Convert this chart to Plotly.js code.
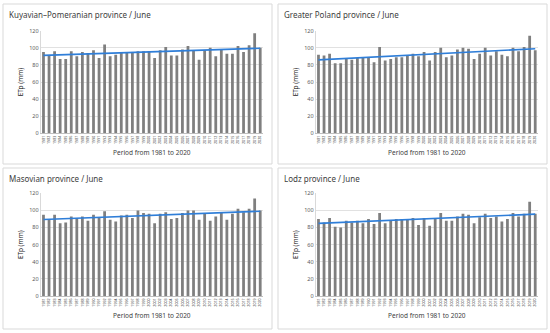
<!DOCTYPE html>
<html><head><meta charset="utf-8">
<script src="https://cdn.plot.ly/plotly-3.0.1.min.js"></script>
<style>html,body{margin:0;padding:0;background:#fff}#c{width:550px;height:333px}</style>
</head><body><div id="c"></div>
<script>
const years = [];
for (let y = 1981; y <= 2020; y++) years.push(String(y));

const titles = [
  "Kuyavian\u2013Pomeranian province / June",
  "Greater Poland province / June",
  "Masovian province / June",
  "Lodz province / June"
];
const kuyavian = [95,91,96,87,87,96,90,95,94,97,88,104,90,92,94,94,95,96,96,96,88,97,101,91,91,98,102,97,86,97,100,90,98,93,93,102,95,103,117,100];
const greaterPoland = [92,91,93,82,82,88,86,88,88,89,83,101,85,87,89,89,91,93,90,95,85,95,100,89,91,98,100,99,87,93,100,91,96,92,90,100,96,101,114,97];
const masovian = [95,89,95,85,86,93,90,93,88,95,91,99,89,87,94,95,91,100,97,96,85,96,98,90,91,97,100,100,89,96,88,93,97,89,96,102,98,102,114,100];
const lodz = [90,86,91,81,80,88,86,88,85,90,84,97,85,88,90,90,89,91,83,91,82,91,97,88,88,93,96,95,85,92,96,91,93,87,90,97,93,96,110,96];
const series = [kuyavian, greaterPoland, masovian, lodz];

const yTicks = [0,20,40,60,80,100,120];
const xTitle = "Period from 1981 to 2020";
const yTitle = "ETp (mm)";

function trend(v){
  const n=v.length; let sx=0,sy=0,sxy=0,sxx=0;
  for(let i=0;i<n;i++){sx+=i;sy+=v[i];sxy+=i*v[i];sxx+=i*i;}
  const b=(n*sxy-sx*sy)/(n*sxx-sx*sx), a=(sy-b*sx)/n;
  return v.map((_,i)=>a+b*i);
}

const W=550,H=333;
const xDom=[[40.7/W,263/W],[315.7/W,538/W]];
const yDom=[[1-133.3/H,1-30.7/H],[1-296/H,1-193.3/H]];
const boxes=[[3,4,272,164],[278,4,547,164],[3,168,272,329],[278,168,547,329]];

const data=[]; const layout={
  width:W,height:H,margin:{l:0,r:0,t:0,b:0},paper_bgcolor:"#fff",plot_bgcolor:"#fff",
  showlegend:false,bargap:0.5,font:{family:"Noto Sans, sans-serif",color:"#595959"},
  shapes:[],annotations:[]
};
series.forEach((vals,k)=>{
  const col=k%2,row=Math.floor(k/2);
  const ax=k===0?"":String(k+1);
  data.push({type:"bar",x:years,y:vals,marker:{color:"#7f7f7f"},xaxis:"x"+ax,yaxis:"y"+ax,hoverinfo:"x+y"});
  data.push({type:"scatter",mode:"lines",x:years,y:trend(vals),line:{color:"#2f7ed8",width:1.6},xaxis:"x"+ax,yaxis:"y"+ax});
  layout["xaxis"+ax]={domain:xDom[col],anchor:"y"+ax,type:"category",tickangle:-90,
    tickfont:{size:3.6,color:"#404040"},ticks:"",showline:true,linecolor:"#bfbfbf",linewidth:1,
    title:{text:xTitle,font:{size:6.5,color:"#404040"},standoff:7},automargin:false};
  layout["yaxis"+ax]={domain:yDom[row],anchor:"x"+ax,range:[0,120],tickvals:yTicks,
    tickfont:{size:5.5,color:"#595959"},gridcolor:"#d9d9d9",gridwidth:0.8,zeroline:false,
    showline:true,linecolor:"#d9d9d9",ticks:"",
    title:{text:yTitle,font:{size:6.5,color:"#262626"},standoff:4},automargin:false};
  const b=boxes[k];
  layout.shapes.push({type:"rect",xref:"paper",yref:"paper",x0:b[0]/W,x1:b[2]/W,y0:1-b[3]/H,y1:1-b[1]/H,
    line:{color:"#d9d9d9",width:1},fillcolor:"rgba(0,0,0,0)",layer:"below"});
  layout.annotations.push({xref:"paper",yref:"paper",x:(b[0]+4)/W,y:1-(b[1]+3)/H,xanchor:"left",yanchor:"top",
    text:titles[k],showarrow:false,font:{size:8,color:"#404040"}});
});
Plotly.newPlot("c",data,layout,{staticPlot:true});
</script></body></html>
